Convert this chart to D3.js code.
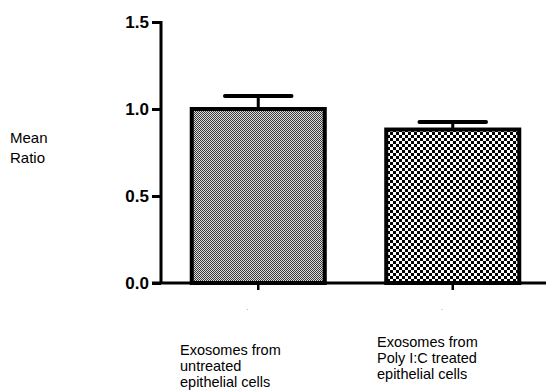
<!DOCTYPE html>
<html><head><meta charset="utf-8">
<script src="https://cdn.jsdelivr.net/npm/d3@7/dist/d3.min.js"></script>
<style>
html,body{margin:0;padding:0;background:#fff;}
svg{display:block;font-family:Arial,"Liberation Sans",sans-serif;}
</style></head>
<body>
<svg id="chart" width="548" height="392"></svg>
<script>
const categories = ["Exosomes from|untreated|epithelial cells", "Exosomes from|Poly I:C treated|epithelial cells"];
const means = [1.0, 0.882];
const errors = [0.075, 0.043];
const yTicks = [0.0, 0.5, 1.0, 1.5];
const yTickLabels = ["0.0", "0.5", "1.0", "1.5"];
const yLabel = ["Mean", "Ratio"];

const svg = d3.select("#chart");
const defs = svg.append("defs");
const p1 = defs.append("pattern").attr("id","fine").attr("patternUnits","userSpaceOnUse").attr("width",2).attr("height",2);
p1.append("rect").attr("width",2).attr("height",2).attr("fill","#dcdcdc");
p1.append("rect").attr("width",1).attr("height",1).attr("fill","#3a3a3a");
p1.append("rect").attr("x",1).attr("y",1).attr("width",1).attr("height",1).attr("fill","#3a3a3a");
const p2 = defs.append("pattern").attr("id","coarse").attr("patternUnits","userSpaceOnUse").attr("width",6).attr("height",6);
p2.append("rect").attr("width",6).attr("height",6).attr("fill","#fff");
p2.append("rect").attr("width",3).attr("height",3).attr("fill","#000");
p2.append("rect").attr("x",3).attr("y",3).attr("width",3).attr("height",3).attr("fill","#000");
const fills = ["url(#fine)", "url(#coarse)"];

const y = d3.scaleLinear().domain([0,1.5]).range([283,22]);
const x = d3.scaleBand().domain(categories).range([161,550]).paddingInner(0.316).paddingOuter(0.158);

// bars
const g = svg.append("g");
categories.forEach((c,i)=>{
  const cx = x(c) + x.bandwidth()/2;
  const top = y(means[i]+errors[i]);
  g.append("line").attr("x1",cx).attr("x2",cx).attr("y1",y(means[i])).attr("y2",top).attr("stroke","#000").attr("stroke-width",3);
  g.append("line").attr("x1",cx-x.bandwidth()/4).attr("x2",cx+x.bandwidth()/4).attr("y1",top).attr("y2",top).attr("stroke","#000").attr("stroke-width",4).attr("stroke-linecap","round");
  g.append("rect").attr("x",x(c)).attr("y",y(means[i])).attr("width",x.bandwidth()).attr("height",y(0)-y(means[i]))
    .attr("fill",fills[i]).attr("stroke","#000").attr("stroke-width",4);
});

// y axis
const yAxis = d3.axisLeft(y).tickValues(yTicks).tickFormat((d,i)=>yTickLabels[i]).tickSize(9).tickPadding(3);
const ya = svg.append("g").attr("transform","translate(161,0)").call(yAxis);
ya.select(".domain").attr("stroke-width",3).attr("d","M-9,22.5H0V283");
ya.selectAll(".tick line").attr("stroke-width",3);
ya.selectAll(".tick text").attr("font-size",17).attr("font-weight","bold").attr("fill","#000").attr("font-family","Arial,'Liberation Sans',sans-serif");

// x axis
const xAxis = d3.axisBottom(x).tickSize(7).tickFormat(()=>".").tickPadding(16);
const xa = svg.append("g").attr("transform","translate(0,283)").call(xAxis);
xa.select(".domain").attr("stroke-width",3).attr("d","M152,0H546");
xa.selectAll(".tick line").attr("stroke-width",2.5);
xa.selectAll(".tick text").attr("font-size",6).attr("dx",-11).attr("fill","#000");

// category labels
const labX = [180, 377];
const labY = [355, 347];
categories.forEach((c,i)=>{
  const t = svg.append("text").attr("y",labY[i]).attr("font-size",14.5).attr("fill","#000");
  c.split("|").forEach((s,j)=>t.append("tspan").attr("x", labX[i]).attr("dy", j===0?0:16).text(s));
});

// y label
const yl = svg.append("text").attr("font-size",15).attr("fill","#000");
yLabel.forEach((s,j)=>yl.append("tspan").attr("x",10).attr("y",143+j*20).text(s));
</script>
</body></html>
